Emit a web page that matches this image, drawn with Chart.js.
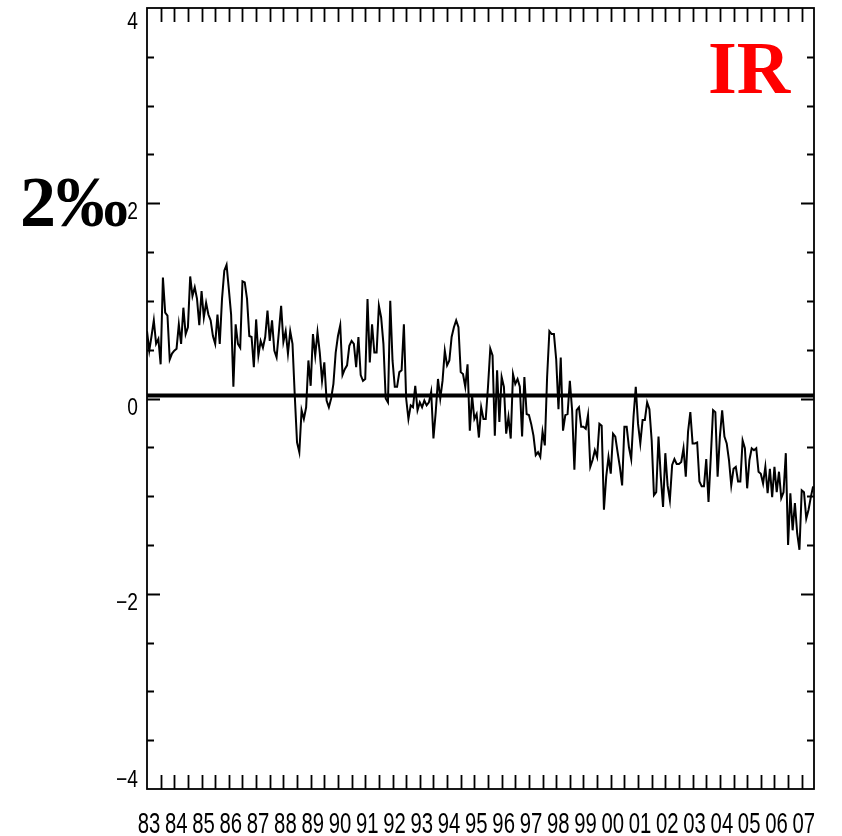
<!DOCTYPE html>
<html>
<head>
<meta charset="utf-8">
<script src="https://cdn.jsdelivr.net/npm/chart.js@4.4.0/dist/chart.umd.min.js"></script>
<style>
  html, body { margin: 0; padding: 0; background: #fff; }
  #wrap { width: 842px; height: 836px; }
</style>
</head>
<body>
<div id="wrap"><canvas id="ir-chart" width="842" height="836"></canvas></div>
<script>
// monthly anomaly, starting Jan 1983
const startYear = 1983;
const endYear = 2007.45;
const irValues = [
  0.69, 0.49, 0.64, 0.80, 0.56, 0.61, 0.35, 1.24, 0.88, 0.85,
  0.40, 0.46, 0.49, 0.51, 0.76, 0.56, 0.93, 0.66, 0.73, 1.25,
  1.05, 1.14, 1.02, 0.75, 1.10, 0.83, 0.98, 0.86, 0.80, 0.64,
  0.56, 0.86, 0.56, 1.02, 1.31, 1.37, 1.12, 0.86, 0.12, 0.76,
  0.56, 0.52, 1.20, 1.19, 1.02, 0.64, 0.63, 0.32, 0.81, 0.44,
  0.59, 0.52, 0.63, 0.90, 0.59, 0.80, 0.49, 0.42, 0.68, 0.95,
  0.58, 0.69, 0.46, 0.69, 0.56, 0.03, -0.45, -0.55, -0.12, -0.21,
  -0.09, 0.39, 0.13, 0.66, 0.44, 0.68, 0.47, 0.18, 0.37, -0.02,
  -0.09, 0.00, 0.15, 0.47, 0.64, 0.75, 0.24, 0.30, 0.34, 0.54,
  0.59, 0.56, 0.32, 0.63, 0.24, 0.18, 0.20, 1.02, 0.37, 0.76,
  0.47, 0.47, 0.95, 0.83, 0.56, 0.00, -0.04, 1.00, 0.39, 0.12,
  0.12, 0.27, 0.29, 0.76, 0.00, -0.21, -0.07, -0.09, 0.13, -0.12,
  -0.04, -0.09, -0.02, -0.07, -0.04, 0.07, -0.41, -0.14, 0.20, 0.00,
  0.18, 0.49, 0.34, 0.39, 0.63, 0.73, 0.80, 0.73, 0.27, 0.25,
  0.12, 0.35, -0.33, 0.03, -0.21, -0.16, -0.40,
  -0.09, -0.21, -0.21, 0.12, 0.51, 0.44, -0.38, 0.29, -0.24, 0.22,
  0.12, -0.36, -0.19, -0.41, 0.25, 0.15, 0.20, 0.12, -0.39, 0.22,
  -0.16, -0.17, -0.26, -0.38, -0.58, -0.55, -0.60, -0.34, -0.48, 0.22,
  0.69, 0.66, 0.66, 0.40, -0.11, 0.42, -0.33, -0.17, -0.16, 0.18,
  -0.12, -0.73, -0.12, -0.09, -0.29, -0.29, -0.31, -0.17, -0.70, -0.63,
  -0.53, -0.60, -0.26, -0.28, -1.14, -0.80, -0.60, -0.77, -0.36, -0.39,
  -0.55, -0.70, -0.89, -0.29, -0.29, -0.50, -0.62, -0.19, 0.12, -0.26,
  -0.46, -0.22, -0.22, -0.04, -0.11, -0.43, -0.99, -0.96, -0.39, -0.80,
  -1.11, -0.56, -0.89, -1.04, -0.68, -0.62, -0.67, -0.67, -0.65, -0.51,
  -0.80, -0.34, -0.14, -0.46, -0.46, -0.45, -0.85, -0.90, -0.90, -0.62,
  -1.06, -0.60, -0.12, -0.14, -0.80, -0.39, -0.12, -0.39, -0.46, -0.63,
  -0.89, -0.72, -0.70, -0.85, -0.85, -0.43, -0.51, -0.92, -0.63, -0.51,
  -0.53, -0.51, -0.75, -0.77, -0.87, -0.70, -0.97, -0.72, -1.01, -0.70,
  -0.96, -0.75, -1.02, -0.96, -0.56, -1.50, -0.97, -1.35, -1.07, -1.38,
  -1.55, -0.94, -0.96, -1.23, -1.14, -1.01, -0.90
];
const yearLabels = ['83','84','85','86','87','88','89','90','91','92','93','94','95',
  '96','97','98','99','00','01','02','03','04','05','06','07'];
const yTickValues = [-4, -2, 0, 2, 4];
const yTickLabels = ['\u22124', '\u22122', '0', '2', '4'];
const zeroLevel = 0.03;
const unitLabel = '2\u2030';
const panelLabel = 'IR';

const points = irValues.map((v, i) => ({ x: startYear + i / 12, y: v }));

function narrowText(ctx, text, x, y, size, sx, align) {
  ctx.save();
  ctx.translate(x, y);
  ctx.scale(sx, 1);
  ctx.font = size + 'px "Liberation Sans", Arial, sans-serif';
  ctx.textAlign = align;
  ctx.textBaseline = 'alphabetic';
  ctx.fillStyle = '#000';
  ctx.fillText(text, 0, 0);
  ctx.restore();
}

// frame, inward ticks, labels (IDL style)
const framePlugin = {
  id: 'frame',
  afterDatasetsDraw(chart) {
    const ctx = chart.ctx;
    const a = chart.chartArea;
    const xs = chart.scales.x, ys = chart.scales.y;
    ctx.save();
    ctx.strokeStyle = '#000';
    ctx.lineWidth = 1.8;
    ctx.strokeRect(a.left, a.top, a.right - a.left, a.bottom - a.top);

    // half-year ticks on top and bottom
    ctx.beginPath();
    for (let k = 1; k <= 48; k++) {
      const px = Math.round(xs.getPixelForValue(startYear + k / 2)) + 0.5;
      ctx.moveTo(px, a.bottom); ctx.lineTo(px, a.bottom - 14);
      ctx.moveTo(px, a.top); ctx.lineTo(px, a.top + 14);
    }
    // y ticks every 0.5
    for (let k = -7; k <= 7; k++) {
      const v = k / 2;
      const py = Math.round(ys.getPixelForValue(v)) + 0.5;
      const len = (v % 2 === 0) ? 13 : 7;
      ctx.moveTo(a.left, py); ctx.lineTo(a.left + len, py);
      ctx.moveTo(a.right, py); ctx.lineTo(a.right - len, py);
    }
    ctx.stroke();

    yearLabels.forEach((lab, i) => {
      const px = xs.getPixelForValue(startYear + i);
      narrowText(ctx, lab, px + 2, 833, 29, 0.7, 'center');
    });
    yTickValues.forEach((v, i) => {
      const py = Math.min(Math.max(ys.getPixelForValue(v) + 16, 29), 787);
      narrowText(ctx, yTickLabels[i], 138, py, 24, 0.8, 'right');
    });

    ctx.font = 'bold 72px "Liberation Serif", "Times New Roman", serif';
    ctx.fillStyle = '#000';
    ctx.textAlign = 'left';
    ctx.textBaseline = 'alphabetic';
    ctx.fillText(unitLabel, 20, 226);

    ctx.font = 'bold 74px "Liberation Serif", "Times New Roman", serif';
    ctx.fillStyle = '#ff0000';
    ctx.fillText(panelLabel, 708, 93);
    ctx.restore();
  }
};

const ctx = document.getElementById('ir-chart').getContext('2d');
const irChart = new Chart(ctx, {
  type: 'line',
  data: {
    datasets: [{
      data: points,
      borderColor: '#000',
      borderWidth: 2,
      pointRadius: 0,
      tension: 0,
      fill: false
    }, {
      data: [{ x: startYear, y: zeroLevel }, { x: endYear, y: zeroLevel }],
      borderColor: '#000',
      borderWidth: 4,
      pointRadius: 0,
      fill: false
    }]
  },
  options: {
    responsive: false,
    animation: false,
    devicePixelRatio: 1,
    layout: { padding: { left: 147, right: 28, top: 8, bottom: 47 } },
    plugins: { legend: { display: false }, tooltip: { enabled: false } },
    scales: {
      x: { type: 'linear', min: startYear, max: endYear, display: false },
      y: { type: 'linear', min: -4, max: 4, display: false }
    }
  },
  plugins: [framePlugin]
});
</script>
</body>
</html>
